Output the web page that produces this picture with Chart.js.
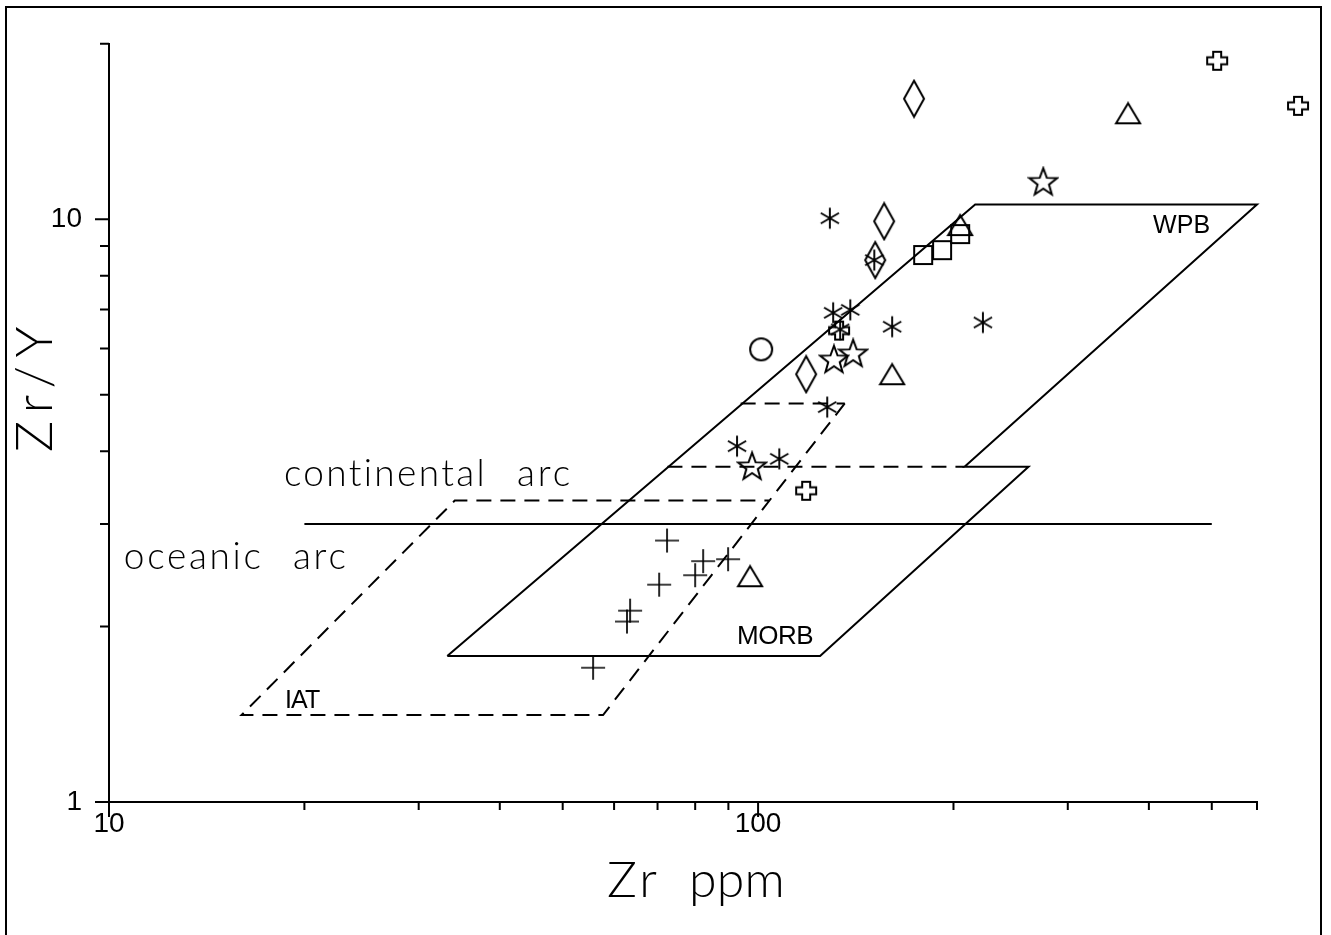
<!DOCTYPE html>
<html>
<head>
<meta charset="utf-8">
<script src="https://cdn.jsdelivr.net/npm/chart.js@4.4.1/dist/chart.umd.min.js"></script>
<style>
  html, body { margin: 0; padding: 0; background: #fff; }
  #wrap { width: 1331px; height: 935px; }
</style>
</head>
<body>
<div id="wrap"><canvas id="zrChart" width="1331" height="935"></canvas></div>
<script>
// Zr/Y vs Zr discrimination diagram
const xTicks = [10, 20, 30, 40, 50, 60, 70, 80, 90, 100, 200, 300, 400, 500, 587];
const yTicks = [1, 2, 3, 4, 5, 6, 7, 8, 9, 10, 20];
const xLabelled = [10, 100];
const yLabelled = [1, 10];

// field outlines
const wpbZr = [33.2, 216, 587, 208, 261, 124.6, 33.2];
const wpbZrY = [1.78, 10.6, 10.6, 3.76, 3.76, 1.78, 1.78];
const iatZr = [136, 57.7, 16, 34.1, 104.2];
const iatZrY = [4.83, 1.41, 1.41, 3.29, 3.29];
const contArcZr = [72.5, 208];
const contArcZrY = [3.76, 3.76];
const contTopZr = [94, 136];
const contTopZrY = [4.83, 4.83];
const arcSplitZr = [20, 500];
const arcSplitZrY = [3, 3];

// samples
const asteriskZr = [129, 151, 130.5, 138.7, 133.8, 160.9, 222, 127.8, 92.8, 107.8];
const asteriskZrY = [10.04, 8.51, 6.91, 6.99, 6.47, 6.54, 6.65, 4.76, 4.08, 3.88];
const starZr = [275, 130.9, 140.1, 97.9];
const starZrY = [11.6, 5.75, 5.89, 3.77];
const diamondZr = [173.9, 156.4, 151.5, 118.6];
const diamondZrY = [16.1, 9.92, 8.51, 5.42];
const triangleZr = [371.6, 204.8, 160.9, 97.2];
const triangleZrY = [15.2, 9.77, 5.42, 2.44];
const squareZr = [179.6, 192.1, 204.8];
const squareZrY = [8.68, 8.85, 9.43];
const circleZr = [101.1];
const circleZrY = [5.98];
const crossZr = [509.6, 679, 118.6, 133.3];
const crossZrY = [18.7, 15.65, 3.42, 6.44];
const plusZr = [72.4, 82.3, 89.9, 80.0, 70.4, 63.5, 62.8, 55.7];
const plusZrY = [2.81, 2.59, 2.61, 2.45, 2.36, 2.13, 2.04, 1.70];

// text placed on the diagram (zr range left->right, baseline zr/y)
const arcFont = '300 37px Lato, "DejaVu Sans", sans-serif';
const textMarks = [
  { text: 'continental', zr: [18.6, 38.3], zrY: 3.49, font: arcFont },
  { text: 'arc', zr: [42.5, 51.9], zrY: 3.49, font: arcFont },
  { text: 'oceanic', zr: [10.54, 17.3], zrY: 2.51, font: arcFont },
  { text: 'arc', zr: [19.2, 23.4], zrY: 2.51, font: arcFont },
  { text: 'WPB', zr: [406, 497], zrY: 9.46, font: '25px "Liberation Sans", Arial, sans-serif' },
  { text: 'MORB', zr: [92.8, 121.6], zrY: 1.867, font: '26px "Liberation Sans", Arial, sans-serif' },
  { text: 'IAT', zr: [18.67, 21.1], zrY: 1.447, font: '25px "Liberation Sans", Arial, sans-serif' }
];

const pts = (xs, ys) => xs.map((x, i) => ({ x: x, y: ys[i] }));

function marker(w, h, lw, draw) {
  const c = document.createElement('canvas');
  c.width = w; c.height = h;
  const g = c.getContext('2d');
  g.strokeStyle = '#000';
  g.lineWidth = lw;
  g.beginPath();
  draw(g, w, h);
  g.stroke();
  return c;
}

const asteriskMark = marker(24, 24, 1.9, (g) => {
  [90, 30, 150].forEach(a => {
    const r = a * Math.PI / 180, dx = Math.cos(r) * 10.5, dy = Math.sin(r) * 10.5;
    g.moveTo(12 - dx, 12 - dy); g.lineTo(12 + dx, 12 + dy);
  });
});
const starMark = marker(32, 32, 2, (g) => {
  for (let i = 0; i < 10; i++) {
    const r = i % 2 ? 6 : 14.5;
    const a = -Math.PI / 2 + i * Math.PI / 5;
    const px = 16 + r * Math.cos(a), py = 17 + r * Math.sin(a);
    i ? g.lineTo(px, py) : g.moveTo(px, py);
  }
  g.closePath();
});
const diamondMark = marker(24, 40, 2, (g) => {
  g.moveTo(12, 2); g.lineTo(22, 20); g.lineTo(12, 38); g.lineTo(2, 20); g.closePath();
});
const triangleMark = marker(28, 24, 2, (g) => {
  g.moveTo(14, 2); g.lineTo(26, 22); g.lineTo(2, 22); g.closePath();
});
const squareMark = marker(22, 22, 2, (g) => { g.rect(2, 2, 18, 18); });
const circleMark = marker(26, 26, 2, (g) => { g.arc(13, 13, 11, 0, Math.PI * 2); });
const crossMark = marker(24, 22, 2, (g) => {
  const p = [[8, 2], [16, 2], [16, 7.5], [22, 7.5], [22, 14.5], [16, 14.5], [16, 20], [8, 20], [8, 14.5], [2, 14.5], [2, 7.5], [8, 7.5]];
  p.forEach((q, i) => i ? g.lineTo(q[0], q[1]) : g.moveTo(q[0], q[1]));
  g.closePath();
});
const plusMark = marker(26, 26, 1.7, (g) => {
  g.moveTo(13, 1); g.lineTo(13, 25); g.moveTo(1, 13); g.lineTo(25, 13);
});

const lineSet = (xs, ys, dash) => ({
  data: pts(xs, ys), showLine: true, borderColor: '#000', borderWidth: 2,
  borderDash: dash || [], pointRadius: 0, fill: false, tension: 0, clip: false
});
const markSet = (xs, ys, style, r) => ({
  data: pts(xs, ys), showLine: false, pointStyle: style, pointRadius: r || 12,
  borderColor: '#000', backgroundColor: 'transparent', clip: false
});

const framePlugin = {
  id: 'frame',
  afterDraw(chart) {
    const { ctx, chartArea, scales: { x, y } } = chart;
    ctx.save();
    ctx.strokeStyle = '#000';
    ctx.lineWidth = 2;
    ctx.strokeRect(6, 7, 1315, 940);

    // tick marks off the axes
    ctx.beginPath();
    xTicks.forEach(v => {
      const px = x.getPixelForValue(v);
      const len = xLabelled.includes(v) ? 15 : 8;
      ctx.moveTo(px, chartArea.bottom); ctx.lineTo(px, chartArea.bottom + len);
    });
    yTicks.forEach(v => {
      const py = y.getPixelForValue(v);
      const len = yLabelled.includes(v) ? 14 : 9;
      ctx.moveTo(chartArea.left - len, py); ctx.lineTo(chartArea.left, py);
    });
    ctx.stroke();

    ctx.fillStyle = '#000';
    ctx.textAlign = 'left';
    ctx.textBaseline = 'alphabetic';
    const fit = (text, font, w) => {
      ctx.font = font;
      ctx.letterSpacing = '0px';
      const m = ctx.measureText(text).width;
      ctx.letterSpacing = ((w - m) / text.length) + 'px';
    };
    textMarks.forEach(t => {
      const l = x.getPixelForValue(t.zr[0]), r = x.getPixelForValue(t.zr[1]);
      fit(t.text, t.font, r - l);
      ctx.fillText(t.text, l, y.getPixelForValue(t.zrY));
    });

    // axis titles
    const titleFont = '300 50px Lato, "DejaVu Sans", sans-serif';
    fit('Zr', titleFont, 53);
    ctx.fillText('Zr', 607, 897);
    fit('ppm', titleFont, 96);
    ctx.fillText('ppm', 689, 897);
    ctx.translate(52, 452);
    ctx.rotate(-Math.PI / 2);
    fit('Zr/Y', '300 52px Lato, "DejaVu Sans", sans-serif', 134);
    ctx.fillText('Zr/Y', 0, 0);
    ctx.restore();
  }
};

const tickFont = { family: '"Liberation Sans", Arial, sans-serif', size: 28 };

new Chart(document.getElementById('zrChart'), {
  type: 'scatter',
  data: {
    datasets: [
      lineSet(wpbZr, wpbZrY),
      lineSet(arcSplitZr, arcSplitZrY),
      lineSet(iatZr, iatZrY, [15, 9]),
      lineSet(contArcZr, contArcZrY, [15, 9]),
      lineSet(contTopZr, contTopZrY, [15, 9]),
      markSet(asteriskZr, asteriskZrY, asteriskMark),
      markSet(starZr, starZrY, starMark),
      markSet(diamondZr, diamondZrY, diamondMark),
      markSet(triangleZr, triangleZrY, triangleMark),
      markSet(squareZr, squareZrY, squareMark),
      markSet(circleZr, circleZrY, circleMark),
      markSet(crossZr, crossZrY, crossMark, 90),
      markSet(plusZr, plusZrY, plusMark)
    ]
  },
  options: {
    responsive: false,
    animation: false,
    events: [],
    layout: { autoPadding: false, padding: { left: 0, top: 38, right: 74, bottom: 0 } },
    plugins: { legend: { display: false }, tooltip: { enabled: false } },
    scales: {
      x: {
        type: 'logarithmic', min: 10, max: 587,
        afterFit: (s) => { s.height = 133; },
        grid: { display: false, drawTicks: false },
        border: { display: true, color: '#000', width: 2 },
        ticks: {
          autoSkip: false, maxRotation: 0, padding: 5, color: '#000', font: tickFont,
          callback: (v) => xLabelled.includes(v) ? String(v) : ''
        }
      },
      y: {
        type: 'logarithmic', min: 1, max: 20,
        afterFit: (s) => { s.width = 109; },
        grid: { display: false, drawTicks: false },
        border: { display: true, color: '#000', width: 2 },
        ticks: {
          autoSkip: false, padding: 27, color: '#000', font: tickFont,
          callback: (v) => yLabelled.includes(v) ? String(v) : ''
        }
      }
    }
  },
  plugins: [framePlugin]
});
</script>
</body>
</html>
